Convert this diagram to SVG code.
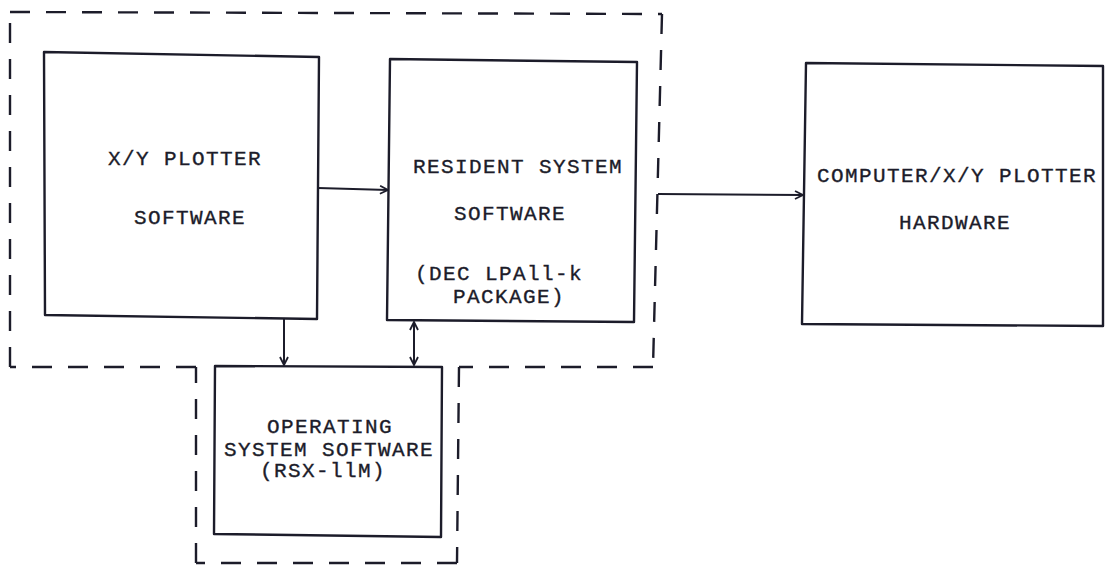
<svg xmlns="http://www.w3.org/2000/svg" width="1106" height="569" viewBox="0 0 1106 569">
<style>
.bg{fill:#ffffff}
.box{fill:none;stroke:#1c1c2a;stroke-width:2.4;stroke-linejoin:round}
.dash{fill:none;stroke:#1c1c2a;stroke-width:2.4;stroke-dasharray:20 16}
.conn{fill:none;stroke:#1c1c2a;stroke-width:2}
.t{font-family:"Liberation Mono","DejaVu Sans Mono",monospace;font-size:21px;letter-spacing:1.4px;fill:#1c1c2a;stroke:#1c1c2a;stroke-width:0.35;text-anchor:middle}
.ts{text-anchor:start}
</style>
<defs>
<marker id="ah" viewBox="0 0 10 10" refX="9" refY="5" markerWidth="10" markerHeight="10" markerUnits="userSpaceOnUse" orient="auto-start-reverse">
<path d="M1,1 L9,5 L1,9" fill="none" stroke="#1c1c2a" stroke-width="1.8"/>
</marker>
</defs>
<rect class="bg" x="0" y="0" width="1106" height="569"/>
<g id="boundary">
<line class="dash" x1="10" y1="12" x2="662" y2="14"/>
<line class="dash" x1="662" y1="14" x2="653" y2="367"/>
<line class="dash" x1="653" y1="367" x2="459" y2="367"/>
<line class="dash" x1="459" y1="367" x2="457" y2="563"/>
<line class="dash" x1="457" y1="563" x2="196" y2="563"/>
<line class="dash" x1="196" y1="563" x2="196" y2="367"/>
<line class="dash" x1="196" y1="367" x2="10" y2="367"/>
<line class="dash" x1="10" y1="367" x2="10" y2="12"/>
</g>
<g id="xy-plotter-software">
<path class="box" d="M44,52 L319,57 L317,319 L45,315 Z"/>
<text class="t" x="185" y="165">X/Y PLOTTER</text>
<text class="t" x="190" y="224">SOFTWARE</text>
</g>
<g id="resident-system-software">
<path class="box" d="M390,59 L637,62 L634,322 L387,320 Z"/>
<text class="t" x="518" y="173">RESIDENT SYSTEM</text>
<text class="t" x="510" y="220">SOFTWARE</text>
<text class="t ts" x="415" y="280">(DEC LPAll-k</text>
<text class="t ts" x="453" y="303">PACKAGE)</text>
</g>
<g id="computer-hardware">
<path class="box" d="M806,63 L1103,66 L1103,326 L802,324 Z"/>
<text class="t" x="957" y="182">COMPUTER/X/Y PLOTTER</text>
<text class="t" x="955" y="229">HARDWARE</text>
</g>
<g id="operating-system-software">
<path class="box" d="M215,366 L442,367 L441,537 L214,534 Z"/>
<text class="t" x="330" y="433">OPERATING</text>
<text class="t" x="329" y="456">SYSTEM SOFTWARE</text>
<text class="t" x="323" y="477">(RSX-llM)</text>
</g>
<g id="connectors">
<line class="conn" x1="318" y1="188" x2="388" y2="190" marker-end="url(#ah)"/>
<line class="conn" x1="658" y1="194" x2="803" y2="195" marker-end="url(#ah)"/>
<line class="conn" x1="284" y1="318" x2="284" y2="365" marker-end="url(#ah)"/>
<line class="conn" x1="414" y1="322" x2="414" y2="365" marker-start="url(#ah)" marker-end="url(#ah)"/>
</g>
</svg>
